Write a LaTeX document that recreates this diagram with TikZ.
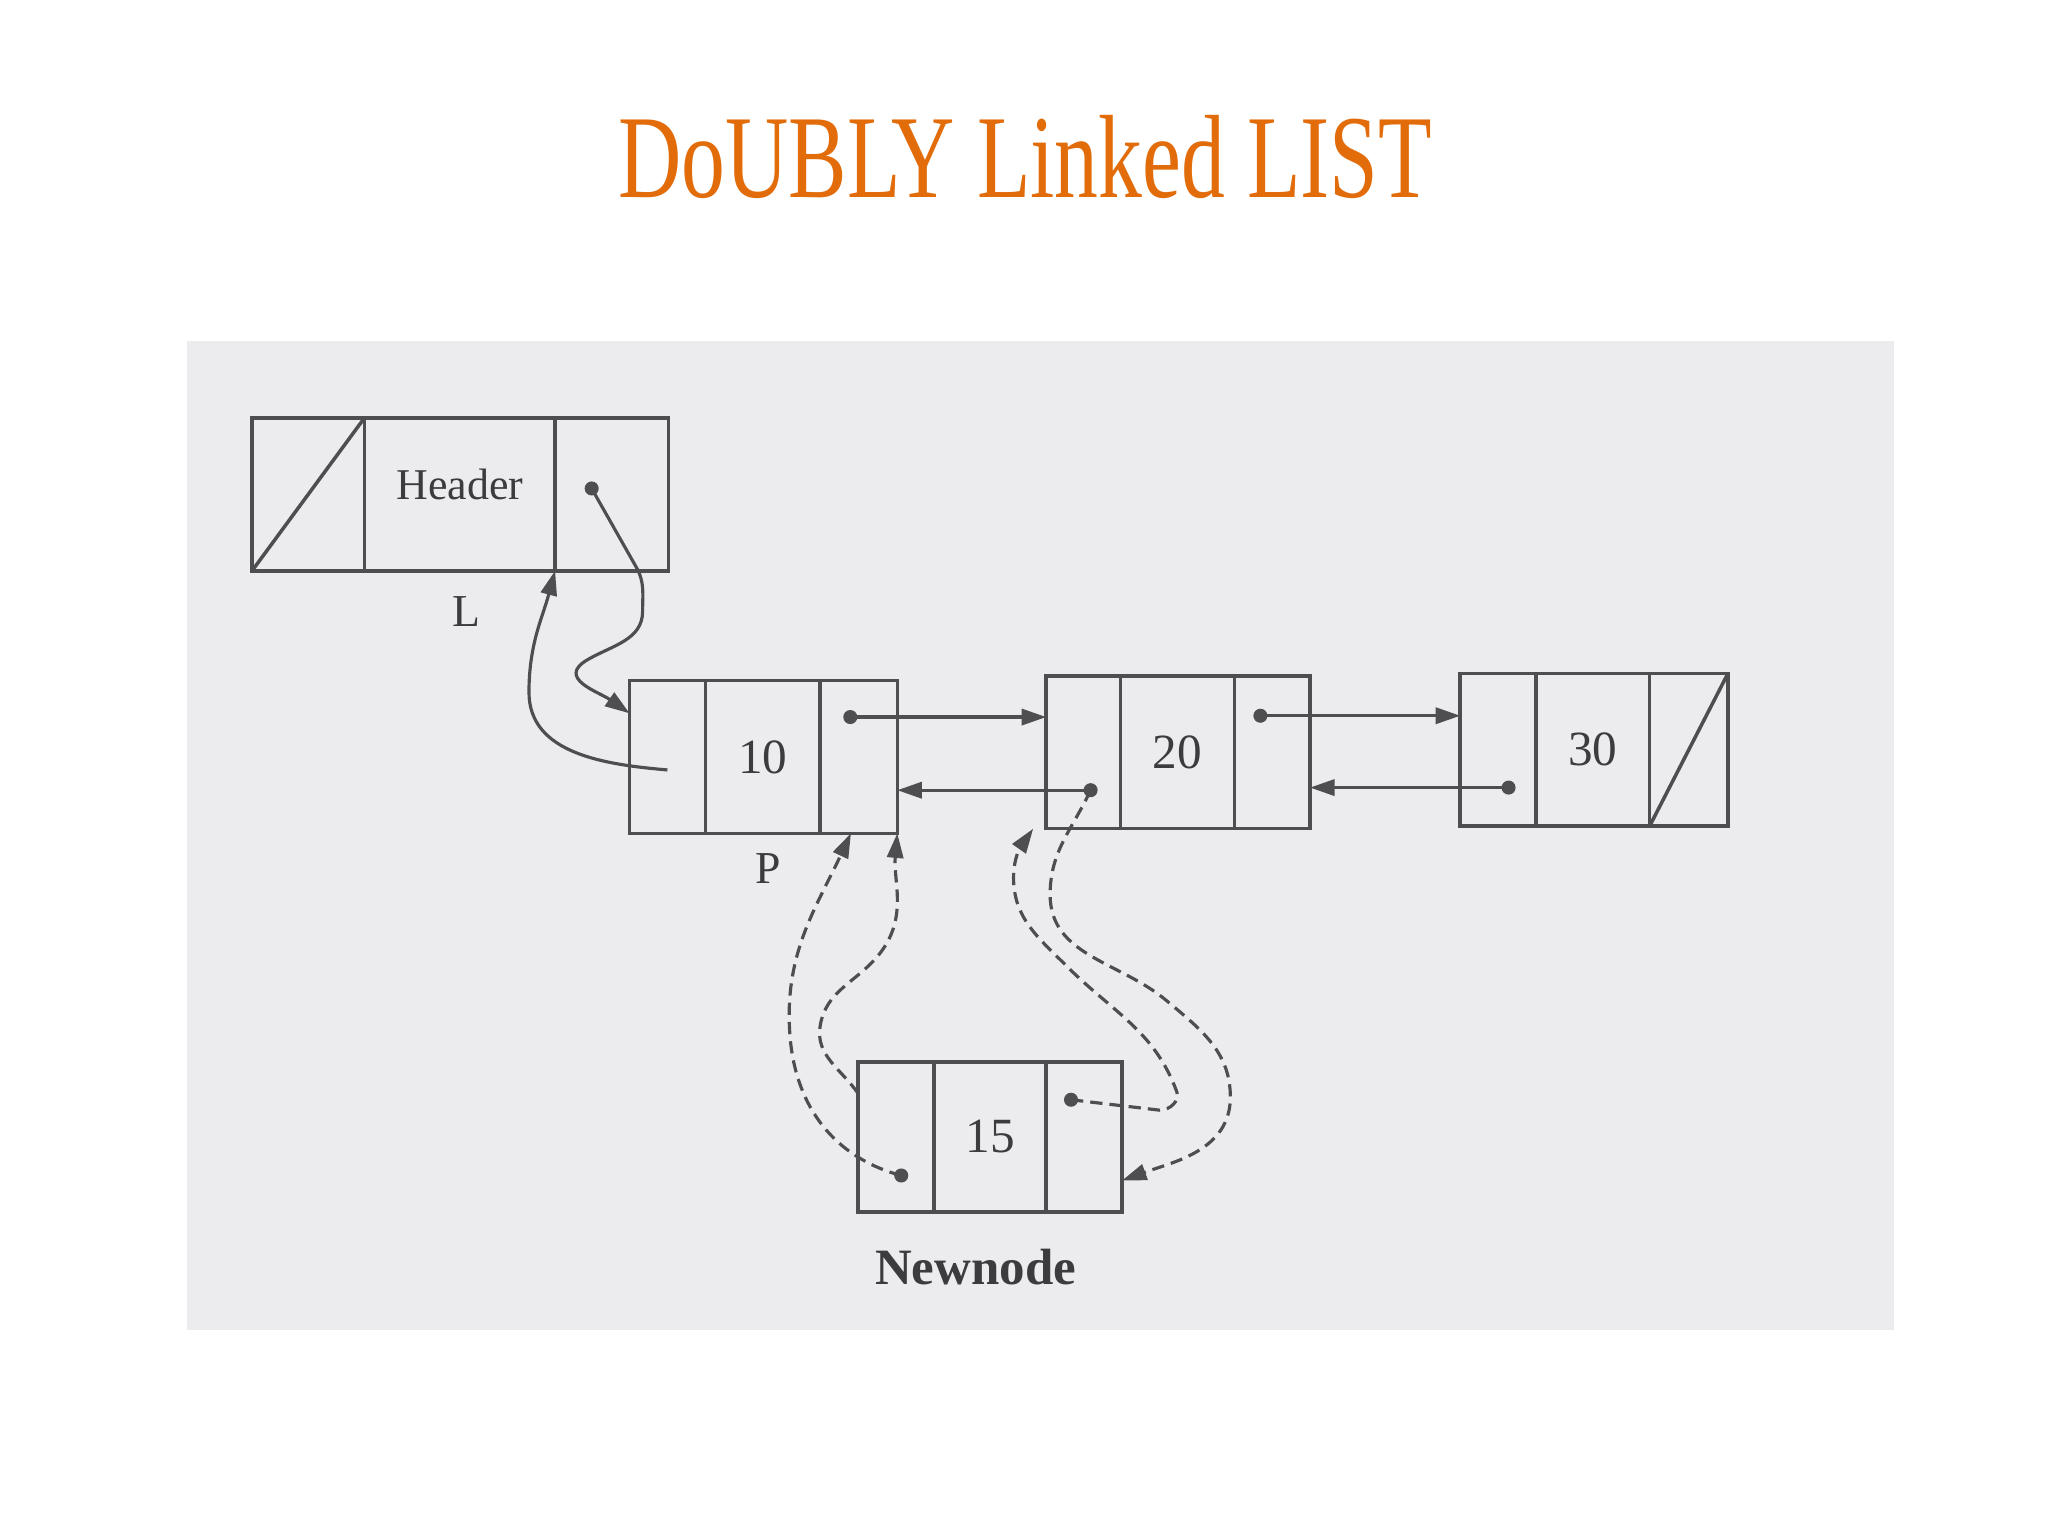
\documentclass[tikz,border=0pt]{standalone}
\usepackage{fontspec}
\setmainfont{Liberation Serif}
\usepackage{xcolor}
\usetikzlibrary{arrows.meta, positioning}

\newcommand{\pxu}{0.01306cm}
\definecolor{titleorange}{RGB}{226,108,10}
\definecolor{photogray}{RGB}{236,236,238}
\definecolor{linegray}{RGB}{78,78,80}
\definecolor{txtgray}{RGB}{60,60,62}

\tikzset{
  cell/.style={draw=linegray, line width=1pt, minimum height=117*\pxu, inner sep=0pt, outer sep=0pt,
    text=txtgray, font=\fontsize{14}{16}\selectfont},
  ptr/.style={circle, fill=linegray, inner sep=0pt, minimum size=4pt},
  link/.style={draw=linegray, line width=0.9pt, -{Triangle[length=7pt,width=4.6pt]}},
  newlink/.style={link, dash pattern=on 3.5pt off 2pt},
  lbl/.style={text=txtgray, font=\fontsize{13}{15}\selectfont},
}

\begin{document}
\begin{tikzpicture}[x=\pxu, y=\pxu]
        \useasboundingbox (0,0) rectangle (1568,-1176);
        \fill[white] (0,0) rectangle (1568,-1176);
        \fill[photogray] (143,-261) rectangle (1450,-1018);
        \node[text=titleorange, font=\fontsize{33.7}{40}\selectfont] (title) at (785,-120)
          {\scalebox{0.74}[1]{DoUBLY Linked LIST}};

        % header node
        \node[cell, minimum width=146*\pxu, text depth=5.5pt, font=\fontsize{12.5}{14}\selectfont] (dh) at (352,-378.5) {Header};
        \node[cell, minimum width=86*\pxu, left=0pt of dh] (lh) {};
        \node[cell, minimum width=87*\pxu, right=0pt of dh] (rh) {};
        \draw[linegray, line width=1pt] (lh.south west) -- (lh.north east);
        \node[lbl] (nameL) at (357,-468) {L};

        % list nodes 10, 20, 30
        \node[cell, minimum width=88*\pxu] (d10) at (584,-579.5) {10};
        \node[cell, minimum width=58*\pxu, left=0pt of d10] (l10) {};
        \node[cell, minimum width=59*\pxu, right=0pt of d10] (r10) {};
        \node[lbl] (nameP) at (588,-665) {P};

        \node[cell, minimum width=87*\pxu] (d20) at (901.5,-576) {20};
        \node[cell, minimum width=57*\pxu, left=0pt of d20] (l20) {};
        \node[cell, minimum width=58*\pxu, right=0pt of d20] (r20) {};

        \node[cell, minimum width=87*\pxu] (d30) at (1219.5,-574) {30};
        \node[cell, minimum width=58*\pxu, left=0pt of d30] (l30) {};
        \node[cell, minimum width=60*\pxu, right=0pt of d30] (r30) {};
        \draw[linegray, line width=1pt] (r30.south west) -- (r30.north east);

        % new node
        \node[cell, minimum width=86*\pxu, minimum height=115*\pxu] (dnew) at (758,-870.5) {15};
        \node[cell, minimum width=58*\pxu, minimum height=115*\pxu, left=0pt of dnew] (lnew) {};
        \node[cell, minimum width=58*\pxu, minimum height=115*\pxu, right=0pt of dnew] (rnew) {};
        \node[lbl, font=\fontsize{14.5}{16}\selectfont\bfseries] (nameNew) at (747,-970) {Newnode};

        % pointers
        \node[ptr] (ph) at (453,-374) {};
        \node[ptr] (p10) at (651,-549) {};
        \node[ptr] (q20) at (835,-605) {};
        \node[ptr] (p20) at (965,-548) {};
        \node[ptr] (q30) at (1155,-603) {};
        \node[ptr] (qnew) at (690,-900) {};
        \node[ptr] (pnew) at (820,-842) {};

        % old links
        \draw[link] (ph.center) -- (487,-434) to[out=-60,in=90] (492,-468) to[out=-90,in=30] (450,-505)
          to[out=-150,in=145,looseness=1.4] (l10.131);
        \draw[link] ([yshift=-10*\pxu]l10.center) to[out=175,in=-90] (405,-530) to[out=90,in=-105] (rh.south west);
        \draw[link] (p10.center) -- (p10 -| l20.west);
        \draw[link] (q20.center) -- (q20 -| r10.east);
        \draw[link] (p20.center) -- (p20 -| l30.west);
        \draw[link] (q30.center) -- (q30 -| r20.east);

        % new links
        \draw[newlink] (qnew.center) to[out=165,in=-85] (605,-795) to[out=95,in=-115] ([xshift=-6*\pxu]r10.south);
        \draw[newlink] (lnew.131) to[out=125,in=-100] (628,-785) to[out=80,in=-130] (672,-732)
          to[out=50,in=-95] (r10.south east);
        \draw[newlink] (pnew.center) -- (888,-850) to[out=0,in=-70] (901,-836) to[out=110,in=-45] (817,-740)
          to[out=135,in=-90] (776,-672) to[out=90,in=-125] ([xshift=-10*\pxu]l20.south west);
        \draw[newlink] (q20.center) to[out=-115,in=90] (804,-685) to[out=-90,in=140] (893,-766)
          to[out=-40,in=90] (942,-840) to[out=-90,in=20] (rnew.-49);
      \end{tikzpicture}
\end{document}
